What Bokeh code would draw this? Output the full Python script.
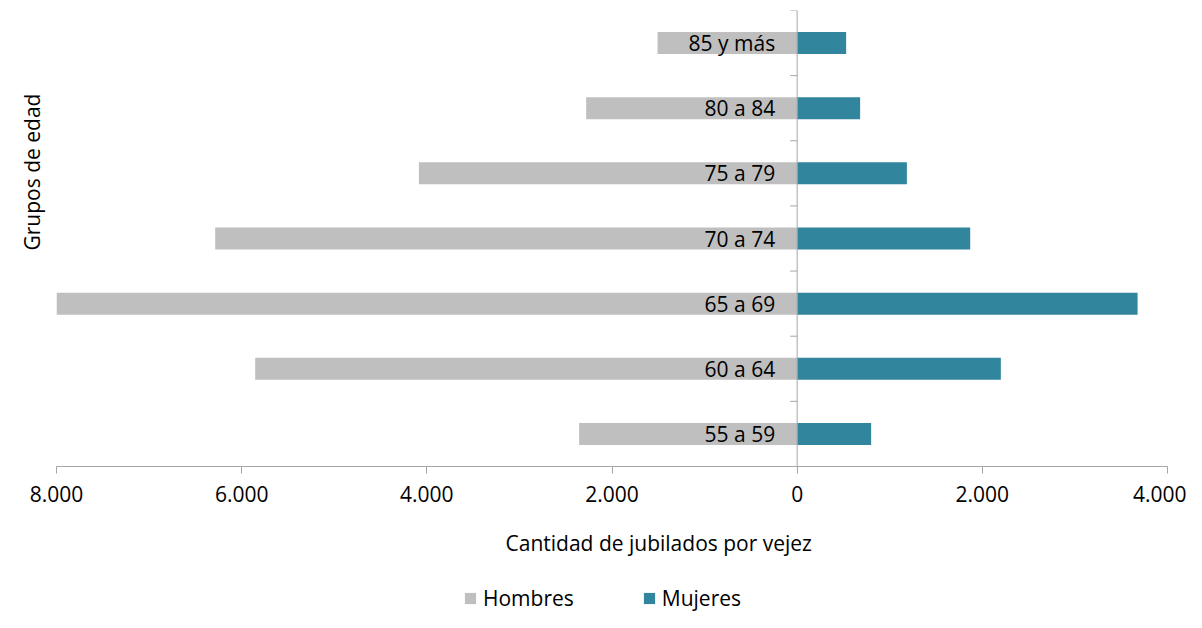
from bokeh.plotting import figure
from bokeh.layouts import column
from bokeh.models import (ColumnDataSource, Range1d, FixedTicker, CustomJSTickFormatter,
                          Span, Title, Legend, LegendItem)
from bokeh.core.properties import value
from bokeh.embed import file_html
from bokeh.resources import INLINE

# ---- data ----
grupos = ["55 a 59", "60 a 64", "65 a 69", "70 a 74", "75 a 79", "80 a 84", "85 y más"]
hombres = [2355, 5854, 8007, 6286, 4086, 2279, 1508]
mujeres = [799, 2200, 3677, 1869, 1185, 680, 529]
x_ticks = [-8000, -6000, -4000, -2000, 0, 2000, 4000]

FONT = "Open Sans"
GREY = "#BFBFBF"
TEAL = "#31859C"
AXIS = "#A6A6A6"
X0, X1 = -8000, 4000
W = 1186
H_MAIN, H_LEG = 582, 30
FRAME_W = 1111
LEFT, TOP, BOTTOM = 56, 10, 116

idx = list(range(len(grupos)))
src = ColumnDataSource(dict(
    y=idx,
    grupo=grupos,
    h_left=[-v for v in hombres],
    zero=[0] * len(grupos),
    m_right=mujeres,
))

p = figure(width=W, height=H_MAIN, output_backend="svg", toolbar_location=None,
           x_range=Range1d(X0, X1), y_range=Range1d(-0.5, len(grupos) - 0.5),
           y_axis_location=None,
           min_border_left=LEFT, min_border_right=W - LEFT - FRAME_W,
           min_border_top=TOP, min_border_bottom=BOTTOM)
p.outline_line_color = None
p.grid.visible = False
p.background_fill_color = "white"
p.border_fill_color = "white"

rh = p.hbar(y="y", left="h_left", right="zero", height=0.338, source=src,
            fill_color=GREY, line_color=None)
rm = p.hbar(y="y", left="zero", right="m_right", height=0.338, source=src,
            fill_color=TEAL, line_color=None)

# category labels next to the zero axis
p.text(x="zero", y="y", text="grupo", source=src, x_offset=-22,
       text_align="right", text_baseline="middle",
       text_font=value(FONT), text_font_size="21px", text_color="#000000")

# vertical axis at zero with category boundary ticks
p.add_layout(Span(location=0, dimension="height", line_color=AXIS, line_width=1))
tick_units = 7 * (X1 - X0) / FRAME_W
bounds = [i - 0.5 for i in range(len(grupos) + 1)]
p.segment(x0=[0] * len(bounds), x1=[-tick_units] * len(bounds), y0=bounds, y1=bounds,
          line_color=AXIS, line_width=1)

# bottom axis
xa = p.xaxis[0]
xa.ticker = FixedTicker(ticks=x_ticks)
xa.formatter = CustomJSTickFormatter(code="""
const v = Math.abs(Math.round(tick));
return v.toString().replace(/\\B(?=(\\d{3})+(?!\\d))/g, '.');
""")
xa.axis_line_color = AXIS
xa.major_tick_line_color = AXIS
xa.major_tick_out = 7
xa.major_tick_in = 0
xa.minor_tick_line_color = None
xa.major_label_standoff = 12
xa.major_label_text_font = FONT
xa.major_label_text_font_size = "21px"
xa.major_label_text_color = "#000000"

# axis titles
p.add_layout(Title(text="Cantidad de jubilados por vejez", align="left", offset=449,
                   standoff=44, text_font=FONT, text_font_size="21px",
                   text_font_style="normal", text_color="#000000"), "below")
p.add_layout(Title(text="Grupos de edad", align="left", offset=216,
                   standoff=22, text_font=FONT, text_font_size="21px",
                   text_font_style="normal", text_color="#000000"), "left")

# legend strip below the chart
pl = figure(width=W, height=H_LEG, output_backend="svg", toolbar_location=None,
            x_range=Range1d(100000, 100001), y_range=Range1d(100000, 100001),
            x_axis_location=None, y_axis_location=None, min_border=0)
pl.outline_line_color = None
pl.grid.visible = False
pl.background_fill_color = "white"
pl.border_fill_color = "white"
lh = pl.hbar(y="y", left="h_left", right="zero", height=0.338, source=src,
             fill_color=GREY, line_color=None)
lm = pl.hbar(y="y", left="zero", right="m_right", height=0.338, source=src,
             fill_color=TEAL, line_color=None)
legend = Legend(items=[LegendItem(label="Hombres", renderers=[lh]),
                       LegendItem(label="Mujeres", renderers=[lm])],
                location=(407, 0), orientation="horizontal",
                glyph_width=14, glyph_height=14, label_standoff=6, spacing=68,
                padding=0, margin=0, border_line_color=None,
                background_fill_alpha=0,
                label_text_font=FONT, label_text_font_size="21px",
                label_text_color="#000000")
pl.add_layout(legend, "center")

layout = column(p, pl, spacing=0)
open("out.html", "w").write(file_html(layout, INLINE))
